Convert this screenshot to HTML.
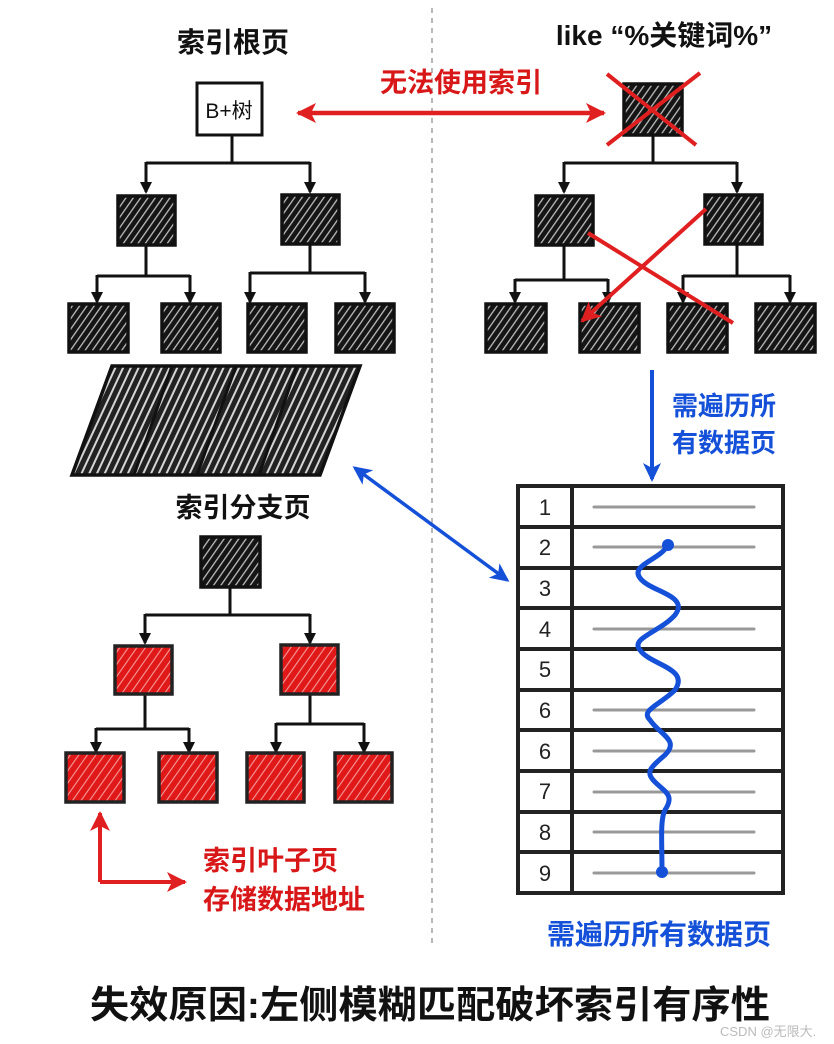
<!DOCTYPE html>
<html><head><meta charset="utf-8"><style>
html,body{margin:0;padding:0;background:#fff;}
svg{display:block;}
text{font-family:"Liberation Sans","Noto Sans CJK SC",sans-serif;}
</style></head><body>
<svg width="834" height="1044" viewBox="0 0 834 1044" xmlns="http://www.w3.org/2000/svg">
<defs>
<pattern id="hb" width="6" height="6" patternUnits="userSpaceOnUse" patternTransform="rotate(35)">
<rect width="6" height="6" fill="#151515"/><rect width="1.3" height="6" fill="#bdbdbd"/></pattern>
<pattern id="hr" width="7" height="7" patternUnits="userSpaceOnUse" patternTransform="rotate(35)">
<rect width="7" height="7" fill="#e01818"/><rect width="1.1" height="7" fill="#f59a9a"/></pattern>
<pattern id="hp" width="7" height="7" patternUnits="userSpaceOnUse" patternTransform="rotate(25)">
<rect width="7" height="7" fill="#222"/><rect width="2" height="7" fill="#d5d5d5"/></pattern>
<marker id="ak" markerWidth="12" markerHeight="12" refX="10" refY="6" orient="auto" markerUnits="userSpaceOnUse"><path d="M0,0 L12,6 L0,12 Z" fill="#111"/></marker>
<marker id="ar" markerWidth="22" markerHeight="22" refX="18" refY="11" orient="auto-start-reverse" markerUnits="userSpaceOnUse"><path d="M0,1 L20,11 L0,21 L5,11 Z" fill="#e02020"/></marker>
<marker id="ab" markerWidth="20" markerHeight="20" refX="16" refY="10" orient="auto-start-reverse" markerUnits="userSpaceOnUse"><path d="M0,1 L19,10 L0,19 L5,10 Z" fill="#1450d8"/></marker>
</defs>

<line x1="432" y1="8" x2="432" y2="945" stroke="#888" stroke-width="1.2" stroke-dasharray="5,5"/>

<!-- left top tree -->
<text x="233" y="52" font-size="28" font-weight="bold" text-anchor="middle" fill="#111">索引根页</text>
<rect x="197" y="83" width="65" height="52" fill="#fff" stroke="#111" stroke-width="3"/>
<text x="229" y="118" font-size="21" text-anchor="middle" fill="#111">B+树</text>
<g stroke="#111" stroke-width="3" fill="none">
<path d="M232,135 V163 M146,163 H310"/>
<path d="M146,162 V192" marker-end="url(#ak)"/><path d="M310,162 V192" marker-end="url(#ak)"/>
<path d="M146,245 V276 M97,276 H190 M310,245 V273 M250,273 H365"/>
<path d="M97,275 V302" marker-end="url(#ak)"/><path d="M190,275 V302" marker-end="url(#ak)"/>
<path d="M250,272 V302" marker-end="url(#ak)"/><path d="M365,272 V302" marker-end="url(#ak)"/>
</g>
<g stroke="#111" stroke-width="3.5" fill="url(#hb)">
<rect x="118" y="196" width="57" height="49"/><rect x="282" y="195" width="57" height="49"/>
<rect x="69" y="304" width="59" height="48"/><rect x="162" y="304" width="58" height="48"/>
<rect x="248" y="304" width="58" height="48"/><rect x="336" y="304" width="58" height="48"/>
</g>
<g stroke="#111" stroke-width="3.5" fill="url(#hp)">
<path d="M112,366 L360,366 L320,475 L72,475 Z"/>
</g>
<g stroke="#111" stroke-width="3"><line x1="172" y1="366" x2="134" y2="475"/><line x1="236" y1="366" x2="197" y2="475"/><line x1="297" y1="366" x2="259" y2="475"/></g>

<!-- red double arrow -->
<text x="461" y="92" font-size="27" font-weight="bold" text-anchor="middle" fill="#d81818">无法使用索引</text>
<line x1="298" y1="113" x2="604" y2="113" stroke="#e02020" stroke-width="4.5" marker-start="url(#ar)" marker-end="url(#ar)"/>

<!-- right tree -->
<text x="664" y="45" font-size="28" font-weight="bold" text-anchor="middle" fill="#111">like “%关键词%”</text>
<g stroke="#111" stroke-width="3" fill="none">
<path d="M653,135 V163 M564,163 H737"/>
<path d="M564,162 V192" marker-end="url(#ak)"/><path d="M737,162 V192" marker-end="url(#ak)"/>
<path d="M564,245 V280 M515,280 H608 M737,245 V276 M683,276 H790"/>
<path d="M515,279 V302" marker-end="url(#ak)"/><path d="M608,279 V302" marker-end="url(#ak)"/>
<path d="M683,275 V302" marker-end="url(#ak)"/><path d="M790,275 V302" marker-end="url(#ak)"/>
</g>
<g stroke="#111" stroke-width="3.5" fill="url(#hb)">
<rect x="624" y="84" width="58" height="51"/>
<rect x="536" y="196" width="57" height="49"/><rect x="705" y="195" width="57" height="49"/>
<rect x="486" y="304" width="60" height="48"/><rect x="580" y="304" width="59" height="48"/>
<rect x="668" y="304" width="59" height="48"/><rect x="756" y="304" width="59" height="48"/>
</g>
<g stroke="#e02020" stroke-width="4" fill="none">
<line x1="607" y1="74" x2="696" y2="145"/><line x1="700" y1="73" x2="607" y2="145"/>
<line x1="588" y1="233" x2="733" y2="323"/>
<line x1="706" y1="209" x2="582" y2="321" marker-end="url(#ar)"/>
</g>

<!-- blue down arrow -->
<line x1="652" y1="370" x2="652" y2="479" stroke="#1450d8" stroke-width="4" marker-end="url(#ab)"/>
<text x="672" y="415" font-size="26" font-weight="bold" fill="#1450d8">需遍历所</text>
<text x="672" y="452" font-size="26" font-weight="bold" fill="#1450d8">有数据页</text>

<!-- blue diagonal arrow -->
<line x1="355" y1="468" x2="507" y2="580" stroke="#1450d8" stroke-width="3.5" marker-start="url(#ab)" marker-end="url(#ab)"/>

<!-- table -->
<g stroke="#222" stroke-width="4" fill="none">
<rect x="518" y="486" width="265" height="407" fill="#fff"/>
<line x1="572" y1="486" x2="572" y2="893"/>
<line x1="518" y1="527" x2="783" y2="527"/><line x1="518" y1="568" x2="783" y2="568"/>
<line x1="518" y1="608" x2="783" y2="608"/><line x1="518" y1="649" x2="783" y2="649"/>
<line x1="518" y1="690" x2="783" y2="690"/><line x1="518" y1="730" x2="783" y2="730"/>
<line x1="518" y1="771" x2="783" y2="771"/><line x1="518" y1="812" x2="783" y2="812"/>
<line x1="518" y1="852" x2="783" y2="852"/>
</g>
<g stroke="#999" stroke-width="3" stroke-linecap="round">
<line x1="594" y1="507" x2="754" y2="507"/><line x1="594" y1="547" x2="754" y2="547"/>
<line x1="594" y1="629" x2="754" y2="629"/><line x1="594" y1="710" x2="754" y2="710"/>
<line x1="594" y1="751" x2="754" y2="751"/><line x1="594" y1="792" x2="754" y2="792"/>
<line x1="594" y1="832" x2="754" y2="832"/><line x1="594" y1="873" x2="754" y2="873"/>
</g>
<g font-size="22" fill="#222" text-anchor="middle">
<text x="545" y="515">1</text><text x="545" y="555">2</text><text x="545" y="596">3</text>
<text x="545" y="637">4</text><text x="545" y="677">5</text><text x="545" y="718">6</text>
<text x="545" y="759">6</text><text x="545" y="799">7</text><text x="545" y="840">8</text>
<text x="545" y="881">9</text>
</g>
<path d="M668,545 C660,560 630,565 640,578 C650,592 690,595 675,615 C660,632 630,638 640,650 C650,665 690,668 675,690 C660,705 640,710 650,720 C660,735 680,740 665,755 C650,768 645,772 655,782 C665,792 675,795 665,810 C660,820 662,840 662,872" stroke="#1450d8" stroke-width="5" fill="none" stroke-linecap="round"/>
<circle cx="668" cy="545" r="6" fill="#1450d8"/><circle cx="662" cy="872" r="6" fill="#1450d8"/>
<text x="659" y="944" font-size="28" font-weight="bold" text-anchor="middle" fill="#1450d8">需遍历所有数据页</text>

<!-- bottom left tree -->
<text x="243" y="517" font-size="27" font-weight="bold" text-anchor="middle" fill="#111">索引分支页</text>
<rect x="201" y="537" width="59" height="50" fill="url(#hb)" stroke="#111" stroke-width="3.5"/>
<g stroke="#111" stroke-width="3" fill="none">
<path d="M230,587 V615 M145,615 H310"/>
<path d="M145,614 V643" marker-end="url(#ak)"/><path d="M310,614 V643" marker-end="url(#ak)"/>
<path d="M145,695 V729 M96,729 H189 M310,695 V724 M276,724 H364"/>
<path d="M96,728 V752" marker-end="url(#ak)"/><path d="M189,728 V752" marker-end="url(#ak)"/>
<path d="M276,723 V752" marker-end="url(#ak)"/><path d="M364,723 V752" marker-end="url(#ak)"/>
</g>
<g stroke="#222" stroke-width="3.5" fill="url(#hr)">
<rect x="115" y="646" width="57" height="48"/><rect x="281" y="645" width="57" height="49"/>
<rect x="66" y="753" width="58" height="49"/><rect x="159" y="753" width="58" height="49"/>
<rect x="247" y="753" width="57" height="49"/><rect x="335" y="753" width="57" height="49"/>
</g>
<path d="M100,882 V813" stroke="#e02020" stroke-width="4" fill="none" marker-end="url(#ar)"/>
<path d="M100,882 H185" stroke="#e02020" stroke-width="4" fill="none" marker-end="url(#ar)"/>
<text x="203" y="870" font-size="27" font-weight="bold" fill="#d81818">索引叶子页</text>
<text x="203" y="909" font-size="27" font-weight="bold" fill="#d81818">存储数据地址</text>

<text x="430" y="1018" font-size="38" font-weight="bold" text-anchor="middle" fill="#111" textLength="680" lengthAdjust="spacingAndGlyphs">失效原因:左侧模糊匹配破坏索引有序性</text>
<text x="720" y="1036" font-size="13" fill="#bbb">CSDN @无限大.</text>
</svg>
</body></html>
